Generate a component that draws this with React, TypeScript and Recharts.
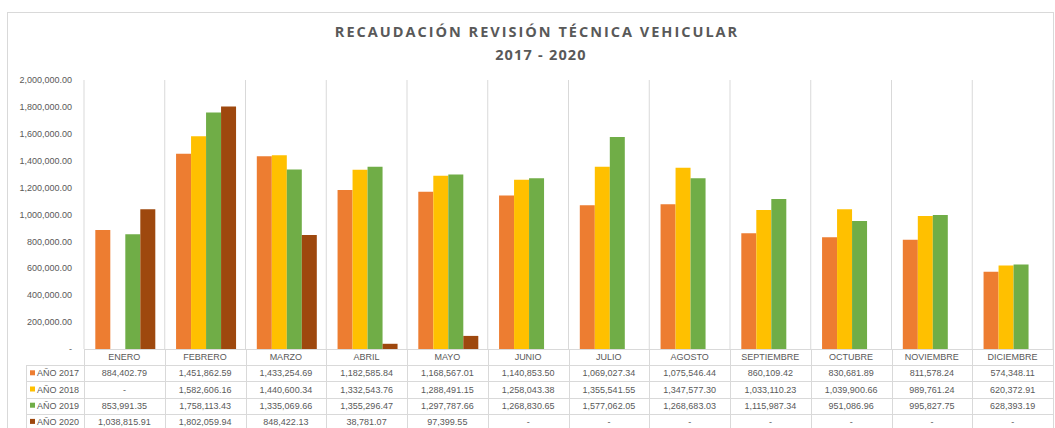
import { BarChart, Bar, XAxis, YAxis, CartesianGrid } from 'recharts';

const months = [
  'ENERO', 'FEBRERO', 'MARZO', 'ABRIL', 'MAYO', 'JUNIO',
  'JULIO', 'AGOSTO', 'SEPTIEMBRE', 'OCTUBRE', 'NOVIEMBRE', 'DICIEMBRE',
];

const ano2017 = [
  884402.79, 1451862.59, 1433254.69, 1182585.84, 1168567.01, 1140853.5,
  1069027.34, 1075546.44, 860109.42, 830681.89, 811578.24, 574348.11,
];
const ano2018 = [
  null, 1582606.16, 1440600.34, 1332543.76, 1288491.15, 1258043.38,
  1355541.55, 1347577.3, 1033110.23, 1039900.66, 989761.24, 620372.91,
];
const ano2019 = [
  853991.35, 1758113.43, 1335069.66, 1355296.47, 1297787.66, 1268830.65,
  1577062.05, 1268683.03, 1115987.34, 951086.96, 995827.75, 628393.19,
];
const ano2020 = [
  1038815.91, 1802059.94, 848422.13, 38781.07, 97399.55, null,
  null, null, null, null, null, null,
];

const yTicks = [0, 200000, 400000, 600000, 800000, 1000000, 1200000, 1400000, 1600000, 1800000, 2000000];

const series = [
  { key: 'y2017', label: 'AÑO 2017', color: '#ED7D31', values: ano2017 },
  { key: 'y2018', label: 'AÑO 2018', color: '#FFC000', values: ano2018 },
  { key: 'y2019', label: 'AÑO 2019', color: '#70AD47', values: ano2019 },
  { key: 'y2020', label: 'AÑO 2020', color: '#9E480E', values: ano2020 },
];

const data = months.map((m, i) => {
  const row: Record<string, string | number | null> = { month: m };
  series.forEach((s) => (row[s.key] = s.values[i]));
  return row;
});

const W = 1055;
const H = 428;
const PLOT_LEFT = 84;
const PLOT_RIGHT = 1053;
const PLOT_TOP = 80;
const PLOT_BOTTOM = 349;
const ROW_H = 16.2;
const HEADER_LEFT = 26;
const GRID = '#D9D9D9';
const TEXT = '#595959';
const FONT = '"Liberation Sans", Arial, sans-serif';

const colW = (PLOT_RIGHT - PLOT_LEFT) / months.length;
const colX = months.map((_, i) => PLOT_LEFT + i * colW);
const boundaries = [...colX, PLOT_RIGHT];

const fmt = (v: number | null) =>
  v == null || v === 0
    ? '-'
    : v.toLocaleString('en-US', { minimumFractionDigits: 2, maximumFractionDigits: 2 });

// title, frame and the data table under the plot
const DataTable = () => {
  const headerBottom = PLOT_BOTTOM + ROW_H;
  return (
    <svg
      width={W}
      height={H}
      style={{ position: 'absolute', left: 0, top: 0, pointerEvents: 'none' }}
      fontFamily={FONT}
    >
      <rect x={7.5} y={12.5} width={1046} height={430} fill="none" stroke={GRID} />
      <text x={537} y={37} textAnchor="middle" fontSize={14.5} fontWeight="bold" fill={TEXT}
        fontFamily='"Open Sans", sans-serif' letterSpacing={2}>
        RECAUDACIÓN REVISIÓN TÉCNICA VEHICULAR
      </text>
      <text x={541} y={60} textAnchor="middle" fontSize={14.5} fontWeight="bold" fill={TEXT}
        fontFamily='"Open Sans", sans-serif' letterSpacing={1.2}>
        2017 - 2020
      </text>

      <line x1={PLOT_LEFT} x2={PLOT_RIGHT} y1={PLOT_BOTTOM + 0.5} y2={PLOT_BOTTOM + 0.5} stroke={GRID} />
      {series.map((s, r) => {
        const y = Math.round(headerBottom + r * ROW_H) + 0.5;
        return <line key={s.key} x1={HEADER_LEFT} x2={PLOT_RIGHT} y1={y} y2={y} stroke={GRID} />;
      })}
      <line x1={HEADER_LEFT + 0.5} x2={HEADER_LEFT + 0.5} y1={headerBottom} y2={H} stroke={GRID} />
      {boundaries.map((x, i) => (
        <line key={i} x1={Math.round(x) + 0.5} x2={Math.round(x) + 0.5} y1={PLOT_BOTTOM} y2={H} stroke={GRID} />
      ))}

      {months.map((m, i) => (
        <text key={m} x={colX[i] + colW / 2} y={PLOT_BOTTOM + ROW_H / 2 + 3} textAnchor="middle" fontSize={9} fill={TEXT}>
          {m}
        </text>
      ))}

      {series.map((s, r) => {
        const cy = headerBottom + r * ROW_H + ROW_H / 2;
        return (
          <g key={s.key}>
            <rect x={30} y={cy - 3} width={5} height={5} fill={s.color} />
            <text x={37} y={cy + 3} fontSize={9} fill={TEXT}>{s.label}</text>
            {s.values.map((v, i) => (
              <text key={i} x={colX[i] + colW / 2} y={cy + 3} textAnchor="middle" fontSize={9} fill={TEXT}>
                {fmt(v)}
              </text>
            ))}
          </g>
        );
      })}
    </svg>
  );
};

export default function App() {
  return (
    <div style={{ position: 'absolute', left: 0, top: 0, width: W, height: H, background: '#fff', overflow: 'hidden' }}>
      <BarChart
        width={W}
        height={H}
        data={data}
        margin={{ top: PLOT_TOP, right: W - PLOT_RIGHT, bottom: H - PLOT_BOTTOM, left: 8 }}
        barCategoryGap="14%"
        barGap={0}
      >
        <CartesianGrid horizontal={false} verticalPoints={boundaries} stroke={GRID} strokeDasharray="" />
        <XAxis dataKey="month" hide />
        <YAxis
          width={PLOT_LEFT - 8}
          domain={[0, 2000000]}
          ticks={yTicks}
          tickFormatter={(v: number) => fmt(v)}
          axisLine={false}
          tickLine={false}
          tickSize={6}
          tickMargin={6}
          tick={{ fontSize: 9, fill: TEXT, fontFamily: FONT }}
          interval={0}
        />
        {series.map((s) => (
          <Bar key={s.key} dataKey={s.key} name={s.label} fill={s.color} isAnimationActive={false} />
        ))}
      </BarChart>
      <DataTable />
    </div>
  );
}
